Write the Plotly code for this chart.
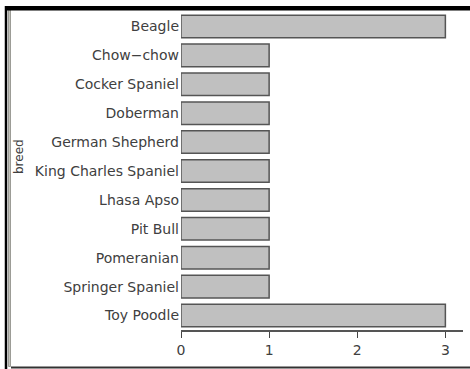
import plotly.graph_objects as go

# Frequency of each breed
breeds = ["Beagle", "Chow−chow", "Cocker Spaniel", "Doberman", "German Shepherd",
          "King Charles Spaniel", "Lhasa Apso", "Pit Bull", "Pomeranian",
          "Springer Spaniel", "Toy Poodle"]
counts = [3, 1, 1, 1, 1, 1, 1, 1, 1, 1, 3]
x_ticks = [0, 1, 2, 3]

W, H = 470, 369
L, R, T, B = 181, 7, 12, 39
pw, ph = W - L - R, H - T - B


def px(x):
    return (x - L) / pw


def py(y):
    return (H - B - y) / ph


fig = go.Figure(go.Bar(
    x=counts, y=breeds, orientation="h",
    marker=dict(color="#c0c0c0", line=dict(color="#555555", width=1.5)),
    width=0.78,
))

font = dict(family="DejaVu Sans", size=14, color="#404040")

fig.update_layout(
    width=W, height=H,
    margin=dict(l=L, r=R, t=T, b=B, pad=0),
    paper_bgcolor="white", plot_bgcolor="white",
    showlegend=False,
    font=font,
    xaxis=dict(range=[0, 3.2], tickvals=x_ticks, ticks="outside", ticklen=6,
               tickcolor="#444444", tickwidth=1.2, showgrid=False, zeroline=False,
               showline=True, linecolor="#555555", linewidth=1.5,
               tickfont=font, fixedrange=True),
    yaxis=dict(categoryorder="array", categoryarray=breeds[::-1],
               range=[-0.5, len(breeds) - 0.5], showgrid=False, zeroline=False,
               showline=False, ticks="", ticklabelstandoff=1,
               tickfont=font, fixedrange=True),
    annotations=[
        dict(text="breed", xref="paper", yref="paper", x=px(19), y=py(156),
             textangle=-90, showarrow=False, xanchor="center", yanchor="middle",
             font=dict(family="DejaVu Sans", size=12, color="#404040")),
    ],
    shapes=[
        # outer black frame on the left
        dict(type="line", xref="paper", yref="paper",
             x0=px(6), x1=px(6), y0=py(6), y1=py(369),
             line=dict(color="#000000", width=2.5), layer="above"),
        # grey inner strip
        dict(type="rect", xref="paper", yref="paper",
             x0=px(8.5), x1=px(10.5), y0=py(10), y1=py(366.5),
             fillcolor="#c4c4bc", line=dict(color="#8a8a84", width=0.8), layer="above"),
        # top black band
        dict(type="rect", xref="paper", yref="paper",
             x0=px(5), x1=px(470), y0=py(6), y1=py(10.5),
             fillcolor="#000000", line=dict(width=0), layer="above"),
        # bottom rule
        dict(type="line", xref="paper", yref="paper",
             x0=px(11), x1=px(470), y0=py(367.5), y1=py(367.5),
             line=dict(color="#333333", width=1.8), layer="above"),
    ],
)

fig.write_html("out.html")
